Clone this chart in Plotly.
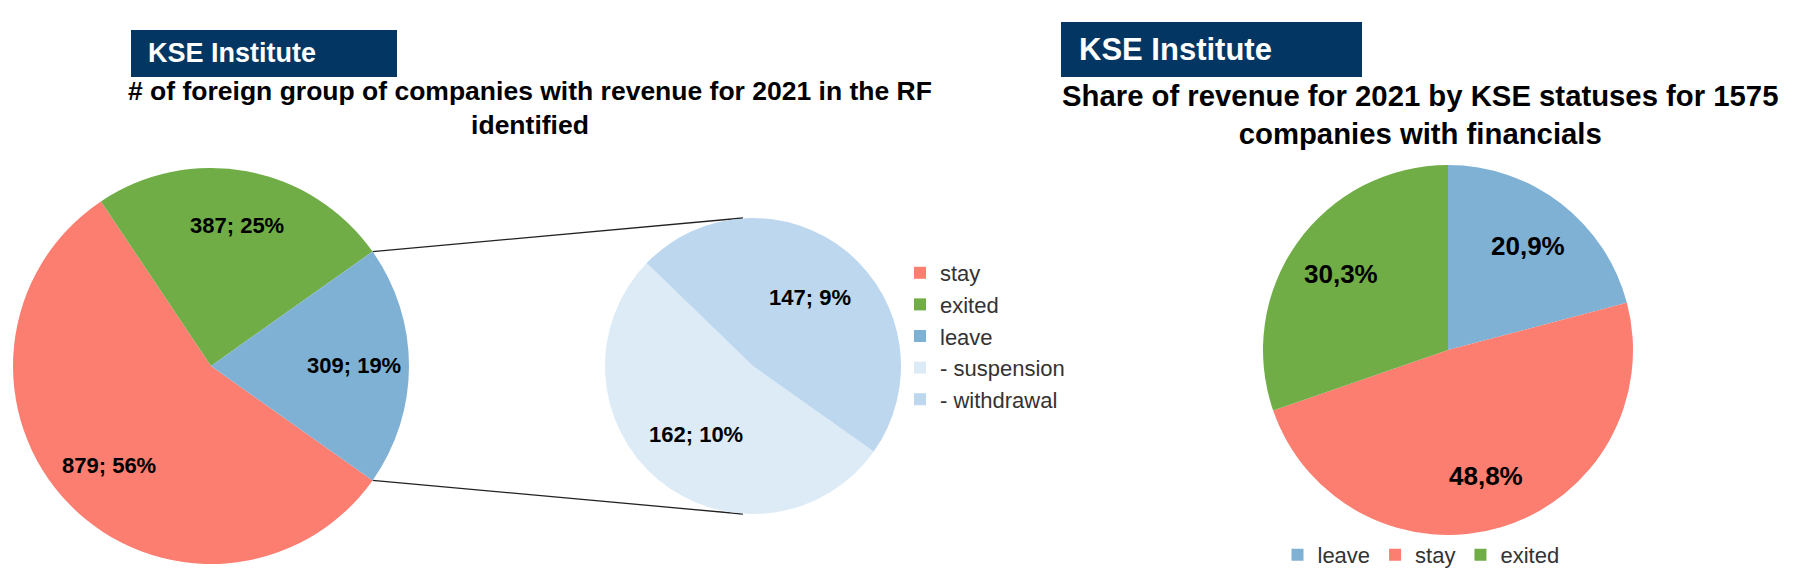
import math
import plotly.graph_objects as go

# left chart: companies by status (pie of pie)
main_labels = ["stay", "exited", "leave"]
main_values = [879, 387, 309]
main_pct = ["56%", "25%", "19%"]

leave_labels = ["- suspension", "- withdrawal"]
leave_values = [162, 147]
leave_pct = ["10%", "9%"]

# right chart: share of revenue, %
rev_labels = ["leave", "stay", "exited"]
rev_share = [20.9, 48.8, 30.3]

colors = {"stay": "#FB7E70", "exited": "#70AD47", "leave": "#7FB1D5",
          "- suspension": "#DDEBF7", "- withdrawal": "#BDD7EE"}
NAVY = "#033663"
FONT = "Liberation Sans, Arial, sans-serif"
W, H = 1800, 582


def domain(cx, cy, r):
    # pixel centre/radius -> paper domain
    return dict(x=[(cx - r) / W, (cx + r) / W],
                y=[(H - cy - r) / H, (H - cy + r) / H])


def slice_labels(values, texts, rotation, centre, r, frac, size):
    # put each label on the slice's mid angle (clockwise from 12 o'clock)
    out = []
    tot = sum(values)
    start = rotation
    for v, t in zip(values, texts):
        mid = math.radians(start + 180 * v / tot)
        start += 360 * v / tot
        px = centre[0] + frac * r * math.sin(mid)
        py = centre[1] - frac * r * math.cos(mid)
        out.append(dict(text=t, x=px / W, y=1 - py / H, xanchor="center", yanchor="middle",
                        font=dict(family=FONT, size=size, color="black", weight="bold")))
    return out


main_c, main_r = (211, 366), 198
sub_c, sub_r = (753, 366), 148
rev_c, rev_r = (1448, 350), 185

total = sum(main_values)
# leave slice centred on 3 o'clock, as in Excel's pie-of-pie
rot = 90 + 180 * main_values[2] / total

fig = go.Figure()
fig.add_trace(go.Pie(
    labels=main_labels, values=main_values, textinfo="none",
    marker=dict(colors=[colors[l] for l in main_labels]),
    sort=False, direction="clockwise", rotation=rot,
    domain=domain(*main_c, main_r), legend="legend", hoverinfo="label+value",
))
fig.add_trace(go.Pie(
    labels=leave_labels, values=leave_values, textinfo="none",
    marker=dict(colors=[colors[l] for l in leave_labels]),
    sort=False, direction="clockwise", rotation=rot,
    domain=domain(*sub_c, sub_r), legend="legend", hoverinfo="label+value",
))
fig.add_trace(go.Pie(
    labels=rev_labels, values=rev_share, textinfo="none",
    marker=dict(colors=[colors[l] for l in rev_labels]),
    sort=False, direction="clockwise", rotation=0,
    domain=domain(*rev_c, rev_r), legend="legend2", legendgroup="revenue",
    hoverinfo="label+percent",
))

# connector lines from the leave slice edges to the secondary pie
a0 = math.radians(rot + 360 * (main_values[0] + main_values[1]) / total)
a1 = a0 + math.radians(360 * main_values[2] / total)
shapes = []
for ang, sy in [(a0, sub_c[1] - sub_r), (a1, sub_c[1] + sub_r)]:
    px = main_c[0] + main_r * math.sin(ang)
    py = main_c[1] - main_r * math.cos(ang)
    shapes.append(dict(type="line", xref="paper", yref="paper",
                       x0=px / W, y0=1 - py / H, x1=(sub_c[0] - 10) / W, y1=1 - sy / H,
                       line=dict(color="#222222", width=1.3), layer="below"))

# KSE Institute boxes
for x0, x1, y0, y1 in [(131, 397, 30, 77), (1061, 1362, 22, 77)]:
    shapes.append(dict(type="rect", xref="paper", yref="paper",
                       x0=x0 / W, x1=x1 / W, y0=1 - y1 / H, y1=1 - y0 / H,
                       fillcolor=NAVY, line=dict(width=0)))

annotations = [
    dict(text="KSE Institute", x=146 / W, y=1 - 53 / H, xanchor="left", yanchor="middle",
         font=dict(family=FONT, size=27, color="white", weight="bold")),
    dict(text="KSE Institute", x=1077 / W, y=1 - 49 / H, xanchor="left", yanchor="middle",
         font=dict(family=FONT, size=31, color="white", weight="bold")),
    dict(text="# of foreign group of companies with revenue for 2021 in the RF<br>identified",
         x=530 / W, y=1 - 108 / H, xanchor="center", yanchor="middle",
         font=dict(family=FONT, size=26.5, color="black", weight="bold")),
    dict(text="Share of revenue for 2021 by KSE statuses for 1575<br>companies with financials",
         x=1420 / W, y=1 - 115 / H, xanchor="center", yanchor="middle",
         font=dict(family=FONT, size=29.3, color="black", weight="bold")),
]
annotations += slice_labels(main_values, [f"{v}; {p}" for v, p in zip(main_values, main_pct)],
                            rot, main_c, main_r, 0.72, 22)
annotations += slice_labels(leave_values, [f"{v}; {p}" for v, p in zip(leave_values, leave_pct)],
                            rot, sub_c, sub_r, 0.6, 22)
annotations += slice_labels(rev_share, [f"{v:.1f}%".replace(".", ",") for v in rev_share],
                            0, rev_c, rev_r, 0.71, 26)
for a in annotations:
    a.update(xref="paper", yref="paper", showarrow=False, align="center")

fig.update_layout(
    width=W, height=H, margin=dict(l=0, r=0, t=0, b=0, autoexpand=False),
    paper_bgcolor="white", plot_bgcolor="white",
    font=dict(family=FONT, color="#222222"),
    shapes=shapes, annotations=annotations,
    legend=dict(x=900 / W, y=1 - 336 / H, xanchor="left", yanchor="middle",
                orientation="v", bgcolor="rgba(0,0,0,0)",
                font=dict(family=FONT, size=22, color="#333333"),
                traceorder="normal"),
    legend2=dict(x=1421 / W, y=1 - 555 / H, xanchor="center", yanchor="middle",
                 orientation="h", traceorder="normal", bgcolor="rgba(0,0,0,0)",
                 font=dict(family=FONT, size=22, color="#333333")),
)

fig.write_html("out.html", config={"displayModeBar": False},
               post_script="document.body.style.margin='0';")
